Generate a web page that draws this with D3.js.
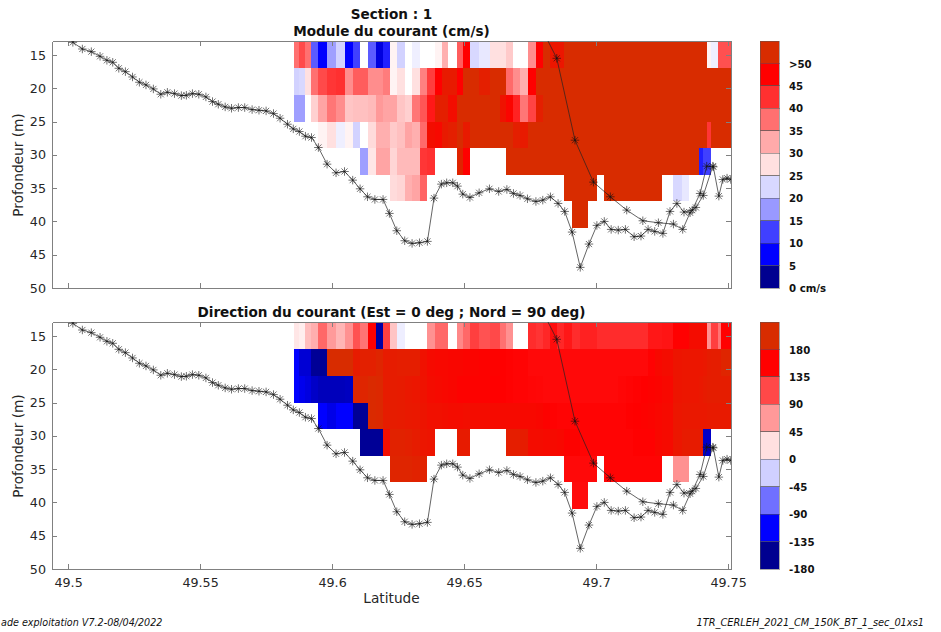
<!DOCTYPE html>
<html>
<head>
<meta charset="utf-8">
<script src="https://cdn.jsdelivr.net/npm/d3@7"></script>
<style>
	html,body{margin:0;padding:0;background:#fff;overflow:hidden;}
	svg{display:block;font-family:'DejaVu Sans',sans-serif;}
</style>
</head>
<body>
<div id="container"></div>
<script>
var n = null;

//column edges, latitude
var latEdges = [
	49.5856,49.5876,49.5898,49.5919,49.5947,49.5980,49.6013,49.6047,49.6078,49.6107,
	49.6135,49.6166,49.6191,49.6219,49.6247,49.6277,49.6304,49.6332,49.6360,49.6388,
	49.6416,49.6438,49.6475,49.6496,49.6522,49.6557,49.6598,49.6636,49.6659,49.6685,
	49.6712,49.6742,49.6772,49.6799,49.6826,49.6852,49.6879,49.6910,49.6939,49.6971,
	49.7003,49.7031,49.7059,49.7084,49.7113,49.7141,49.7169,49.7198,49.7223,49.7251,
	49.7293,49.7327,49.7353,49.7391,49.7406,49.7419,49.7437,49.7462,49.7475,49.7510
];
var depthEdges = [13,17,21,25,29,33,37,41];

//module du courant, cm/s, one row per depth bin
var speedRows = [
	[37.5,40.5,37.5,14,7.5,18,22,7.5,12.5,25, 14,6,10,26,22,25,24,25,25,26, 32,25,39,47.5,22.5,23.5,27.5,27.5,29.5,25, 25,35,47.5,53,50,50,53,53,53,53, 53,53,53,53,53,53,53,53,53,53, 53,53,53,53,53,26,24,40,40],
	[22,22.5,27.5,37.5,40.5,42,42.5,35,39,39, 35,35,36.5,26,27.5,25,27.5,36,41.5,47.5, 50.5,50.5,47.5,53,53,51,53,53,38,35, 32,47.5,53,53,53,53,53,53,53,53, 53,53,53,53,53,53,53,53,53,53, 53,53,53,53,53,53,53,53,53],
	[18,18,25,29,33,37,35,30,30.5,30.5, 31,34,33,33,30,29,37,39.5,45,51, 51,49,53,53,53,53,53,49.5,48,44, 37,41,51,53,53,53,53,53,53,53, 53,53,53,53,53,53,53,53,53,53, 53,53,53,53,53,53,53,53,53],
	[n,n,n,n,26,27.5,24,26,22,25, 28,32,32,29.5,30.5,33,32,38,49,48.5, 50.5,51,53,50.5,53,53,53,53,53,51, 50.5,53,53,53,53,53,53,53,53,53, 53,53,53,53,53,53,53,53,53,53, 53,53,53,53,53,42,53,53,53],
	[n,n,n,n,n,n,n,n,n,18, 27,33,33,28.5,31,31,31,42,42.5,n, n,n,51.5,47.5,n,n,n,n,53,53, 53,53,53,53,53,53,53,53,53,53, 53,53,53,53,53,53,53,53,53,53, 53,53,53,10,12.5,12.5,n,n,n],
	[n,n,n,n,n,n,n,n,n,n, n,n,n,28,28.5,32,33,38.5,n,n, n,n,n,n,n,n,n,n,n,n, n,n,n,n,n,n,53,53,53,53, n,53,53,53,53,53,53,53,53,n, 22.5,23.5,n,n,n,n,n,n,n],
	[n,n,n,n,n,n,n,n,n,n, n,n,n,n,n,n,n,n,n,n, n,n,n,n,n,n,n,n,n,n, n,n,n,n,n,n,n,53,53,n, n,n,n,n,n,n,n,n,n,n, n,n,n,n,n,n,n,n,n]
];

//direction du courant, deg
var dirRows = [
	[18,12,45,54,95,67,50,72,107,88, 157,-150,118,40,-8,0,0,0,72,95, 95,0,77,95,118,107,112,90,72,0, 0,130,125,133,150,133,143,130,137,137, 130,130,130,130,130,130,130,143,143,145, 157,157,170,170,170,72,118,88,157],
	[-112,-130,-130,-155,-155,202,202,202,185,190, 190,195,185,186,188,188,188,175,168,166, 166,164,164,162,162,160,160,158,156,155, 155,152,152,152,152,152,152,152,152,152, 152,152,152,152,152,152,152,156,166,170, 178,180,180,180,182,186,187,187,195],
	[-112,-120,-125,-135,-140,-140,-140,-138,195,195, 200,198,185,186,185,182,180,176,170,168, 166,164,160,160,160,160,158,158,156,155, 155,154,153,152,152,152,152,152,152,152, 152,152,152,154,155,156,158,160,162,166, 178,180,180,182,185,187,187,187,187],
	[n,n,n,n,-112,-122,-112,-112,-155,-155, 200,198,186,186,185,183,182,178,174,174, 172,170,170,172,170,170,168,168,168,168, 166,166,164,160,156,155,155,155,155,155, 155,155,155,155,157,158,160,162,165,168, 180,182,182,182,182,184,184,184,184],
	[n,n,n,n,n,n,n,n,n,-155, -155,-155,172,192,192,190,186,180,178,n, n,n,185,185,n,n,n,n,188,188, 186,170,170,168,168,166,160,160,155,155, 155,155,155,155,155,157,157,157,165,168, 180,185,185,185,-135,-135,n,n,n],
	[n,n,n,n,n,n,n,n,n,n, n,n,n,195,195,195,192,192,n,n, n,n,n,n,n,n,n,n,n,n, n,n,n,n,n,n,152,152,152,152, n,155,155,155,155,155,155,155,155,n, 72,72,n,n,n,n,n,n,n],
	[n,n,n,n,n,n,n,n,n,n, n,n,n,n,n,n,n,n,n,n, n,n,n,n,n,n,n,n,n,n, n,n,n,n,n,n,n,150,150,n, n,n,n,n,n,n,n,n,n,n, n,n,n,n,n,n,n,n,n]
];

//bottom track [lat,depth]
var trackOut = [
	[49.5018,13.1],[49.5054,14.1],[49.5088,14.5],[49.5121,15.2],[49.5147,15.8],[49.5169,16.1],[49.5192,17.0],[49.5217,17.5],
	[49.5244,18.3],[49.5270,19.1],[49.5295,19.5],[49.5323,20.1],[49.5351,20.9],[49.5376,20.6],[49.5403,20.8],[49.5429,21.1],
	[49.5448,21.05],[49.5471,20.8],[49.5495,20.9],[49.5522,21.3],[49.5547,22.0],[49.5569,22.4],[49.5595,22.8],[49.5619,23.0],
	[49.5645,22.9],[49.5669,22.9],[49.5697,23.2],[49.5723,23.3],[49.5750,23.4],[49.5778,23.8],[49.5803,24.5],[49.5831,25.4],
	[49.5853,26.1],[49.5876,26.5],[49.5899,27.2],[49.5922,27.4],[49.5948,28.9],[49.5981,31.4],[49.6015,32.7],[49.6047,32.5],
	[49.6078,33.8],[49.6106,35.1],[49.6134,36.3],[49.6162,36.7],[49.6193,36.7],[49.6217,38.8],[49.6245,41.4],[49.6275,42.9],
	[49.6303,43.3],[49.6331,43.2],[49.6361,43.0],[49.6386,36.5],[49.6414,34.4],[49.6434,34.2],[49.6457,34.2],[49.6475,34.7],
	[49.6495,35.9],[49.6522,36.4],[49.6557,35.7],[49.6596,35.1],[49.6631,35.5],[49.6662,35.2],[49.6687,35.8],[49.6712,36.1],
	[49.6740,36.6],[49.6772,37.0],[49.6798,36.8],[49.6827,36.3],[49.6856,37.3],[49.6881,38.5],[49.6909,41.6],[49.6940,46.9],
	[49.6973,43.4],[49.7003,40.6],[49.7031,40.0],[49.7057,41.2],[49.7084,41.3],[49.7111,41.2],[49.7144,42.3],[49.7170,42.2],
	[49.7197,41.2],[49.7222,41.5],[49.7253,41.8],[49.7280,38.5],[49.7306,37.3],[49.7333,38.6],[49.7364,38.3],[49.7394,35.8],
	[49.7419,31.7],[49.7444,31.8],[49.7465,36.2],[49.7480,33.7],[49.7496,33.5],[49.7510,33.7]
];
var trackBack = [
	[49.6777,9.7],[49.6851,15.5],[49.6920,27.8],[49.6990,34.1],[49.7054,36.3],[49.7116,38.3],[49.7177,39.9],[49.7236,40.2],
	[49.7293,40.4],[49.7328,41.2],[49.7356,38.7],[49.7378,37.9],[49.7406,36.1],[49.7442,31.7]
];

var latTicks = [49.5,49.55,49.6,49.65,49.7,49.75];
var depthTicks = [15,20,25,30,35,40,45,50];

var speedLabels = ['>50','45','40','35','30','25','20','15','10','5','0 cm/s'];
var speedBins = ['#d82c00','#ff0000','#ff3030','#ff7070','#ffaaaa','#ffe0e0','#d8d8ff','#9999ff','#4040ff','#0000ff','#000090'];
var speedStops = [2.5,7.5,12.5,17.5,22.5,25,27.5,32.5,37.5,42.5,47.5,52.5];
var speedStopColors = ['#000090','#0000ff','#4040ff','#9999ff','#d8d8ff','#ffffff','#ffe0e0','#ffaaaa','#ff7070','#ff3030','#ff0000','#d82c00'];

var dirLabels = ['180','135','90','45','0','-45','-90','-135','-180'];
var dirBins = ['#d82c00','#ff0000','#ff4848','#ff9999','#ffe0e0','#d0d0ff','#7070ff','#0000ff','#000090'];
var dirStops = [-157.5,-112.5,-67.5,-22.5,0,22.5,67.5,112.5,157.5,202.5];
var dirStopColors = ['#000090','#0000ff','#7070ff','#d0d0ff','#ffffff','#ffe0e0','#ff9999','#ff4848','#ff0000','#d82c00'];

var w = 941, h = 632;
var axisColor = '#808080', textColor = '#262626';

var svg = d3.select('#container').append('svg')
	.attr('width',w)
	.attr('height',h);

var x = d3.scaleLinear().domain([49.4939,49.7511]).range([52,731]);

//asterisk marker, 8 arms
var star = {
	draw:function(ctx,size){
		var r = Math.sqrt(size), d = r*0.72;
		ctx.moveTo(-r,0); ctx.lineTo(r,0);
		ctx.moveTo(0,-r); ctx.lineTo(0,r);
		ctx.moveTo(-d,-d); ctx.lineTo(d,d);
		ctx.moveTo(-d,d); ctx.lineTo(d,-d);
	}
};

function drawPanel(id,top,rows,stops,stopColors,bins,labels,title,showLat){
	var bottom = top +247;
	var y = d3.scaleLinear().domain([12.9,50]).range([top,bottom]);
	var color = d3.scaleLinear().domain(stops).range(stopColors).clamp(true);

	var g = svg.append('g').attr('class','panel');

	svg.append('clipPath').attr('id',id)
		.append('rect')
		.attr('x',52).attr('y',top)
		.attr('width',679).attr('height',247);

	//cells
	var cells = [];
	rows.forEach(function(row,r){
		row.forEach(function(v,c){
			if(v !== null){ cells.push({r:r,c:c,v:v}); }
		});
	});
	g.append('g').selectAll('rect')
		.data(cells)
		.enter().append('rect')
		.attr('x',function(d){ return Math.round(x(latEdges[d.c])); })
		.attr('width',function(d){ return Math.round(x(latEdges[d.c+1])) -Math.round(x(latEdges[d.c])); })
		.attr('y',function(d){ return Math.round(y(depthEdges[d.r])); })
		.attr('height',function(d){ return Math.round(y(depthEdges[d.r+1])) -Math.round(y(depthEdges[d.r])); })
		.attr('shape-rendering','crispEdges')
		.style('fill',function(d){ return color(d.v); });

	//axes, box with ticks on all sides pointing in
	var fmt = function(d){ return String(d); };
	var axes = [
		d3.axisBottom(x).tickValues(latTicks).tickSize(-5).tickFormat(showLat ? fmt : ''),
		d3.axisTop(x).tickValues(latTicks).tickSize(-5).tickFormat(''),
		d3.axisLeft(y).tickValues(depthTicks).tickSize(-5).tickFormat(fmt),
		d3.axisRight(y).tickValues(depthTicks).tickSize(-5).tickFormat('')
	];
	var shifts = [[0,bottom],[0,top],[52,0],[731,0]];
	axes.forEach(function(a,i){
		var ag = g.append('g')
			.attr('transform','translate(' +shifts[i][0] +',' +shifts[i][1] +')')
			.call(a.tickSizeOuter(0));
		ag.selectAll('path,line').style('stroke',axisColor).attr('shape-rendering','crispEdges');
		ag.selectAll('text')
			.style('fill',textColor)
			.style('font-size','12.7px')
			.style('font-family',"'DejaVu Sans',sans-serif");
		if(i === 0){ ag.selectAll('text').attr('y',9); }
		if(i === 2){ ag.selectAll('text').attr('x',-6); }
	});

	//bottom track
	var line = d3.line()
		.x(function(d){ return x(d[0]); })
		.y(function(d){ return y(d[1]); });
	var trackG = g.append('g').attr('clip-path','url(#' +id +')');
	[trackOut,trackBack].forEach(function(track){
		trackG.append('path')
			.attr('d',line(track))
			.style('fill','none')
			.style('stroke','#222')
			.style('stroke-width',0.7);
		trackG.selectAll(null)
			.data(track)
			.enter().append('path')
			.attr('d',d3.symbol().type(star).size(18))
			.attr('transform',function(d){ return 'translate(' +x(d[0]) +',' +y(d[1]) +')'; })
			.style('fill','none')
			.style('stroke','#111')
			.style('stroke-width',0.6);
	});

	//ylabel and title
	g.append('text')
		.attr('transform','translate(23,' +(top +124) +')rotate(-90)')
		.attr('text-anchor','middle')
		.style('font-size','13.7px')
		.style('fill',textColor)
		.text('Profondeur (m)');
	g.append('text')
		.attr('x',391.5).attr('y',top -5)
		.attr('text-anchor','middle')
		.style('font-size','13.6px')
		.style('font-weight','bold')
		.style('fill','#111')
		.text(title);

	//colour bar
	var band = d3.scaleBand().domain(bins).range([top,bottom]);
	g.append('g').selectAll('rect')
		.data(bins)
		.enter().append('rect')
		.attr('x',760).attr('width',19)
		.attr('y',function(d){ return band(d); })
		.attr('height',band.bandwidth())
		.attr('shape-rendering','crispEdges')
		.style('fill',function(d){ return d; })
		.style('stroke','#555')
		.style('stroke-width',0.5);
	g.append('g').selectAll('text')
		.data(labels)
		.enter().append('text')
		.attr('x',789)
		.attr('y',function(d,i){ return band(bins[i]) +band.bandwidth() +0.5; })
		.attr('dy','0.35em')
		.style('font-size','10.2px')
		.style('font-weight','bold')
		.style('fill','#111')
		.text(function(d){ return d; });
}

drawPanel('clipSpeed',41,speedRows,speedStops,speedStopColors,speedBins,speedLabels,'Module du courant (cm/s)',false);
drawPanel('clipDir',322,dirRows,dirStops,dirStopColors,dirBins,dirLabels,'Direction du courant (Est = 0 deg ; Nord = 90 deg)',true);

svg.append('text')
	.attr('x',391.5).attr('y',19)
	.attr('text-anchor','middle')
	.style('font-size','13.6px')
	.style('font-weight','bold')
	.style('fill','#111')
	.text('Section : 1');
svg.append('text')
	.attr('x',391.5).attr('y',603)
	.attr('text-anchor','middle')
	.style('font-size','13.7px')
	.style('fill',textColor)
	.text('Latitude');
svg.append('text')
	.attr('x',1).attr('y',626)
	.attr('text-anchor','start')
	.style('font-size','9.6px')
	.style('font-style','italic')
	.style('fill','#111')
	.text('ade exploitation V7.2-08/04/2022');
svg.append('text')
	.attr('x',924).attr('y',626)
	.attr('text-anchor','end')
	.style('font-size','9.8px')
	.style('font-style','italic')
	.style('fill','#111')
	.text('1TR_CERLEH_2021_CM_150K_BT_1_sec_01xs1');
</script>
</body>
</html>
